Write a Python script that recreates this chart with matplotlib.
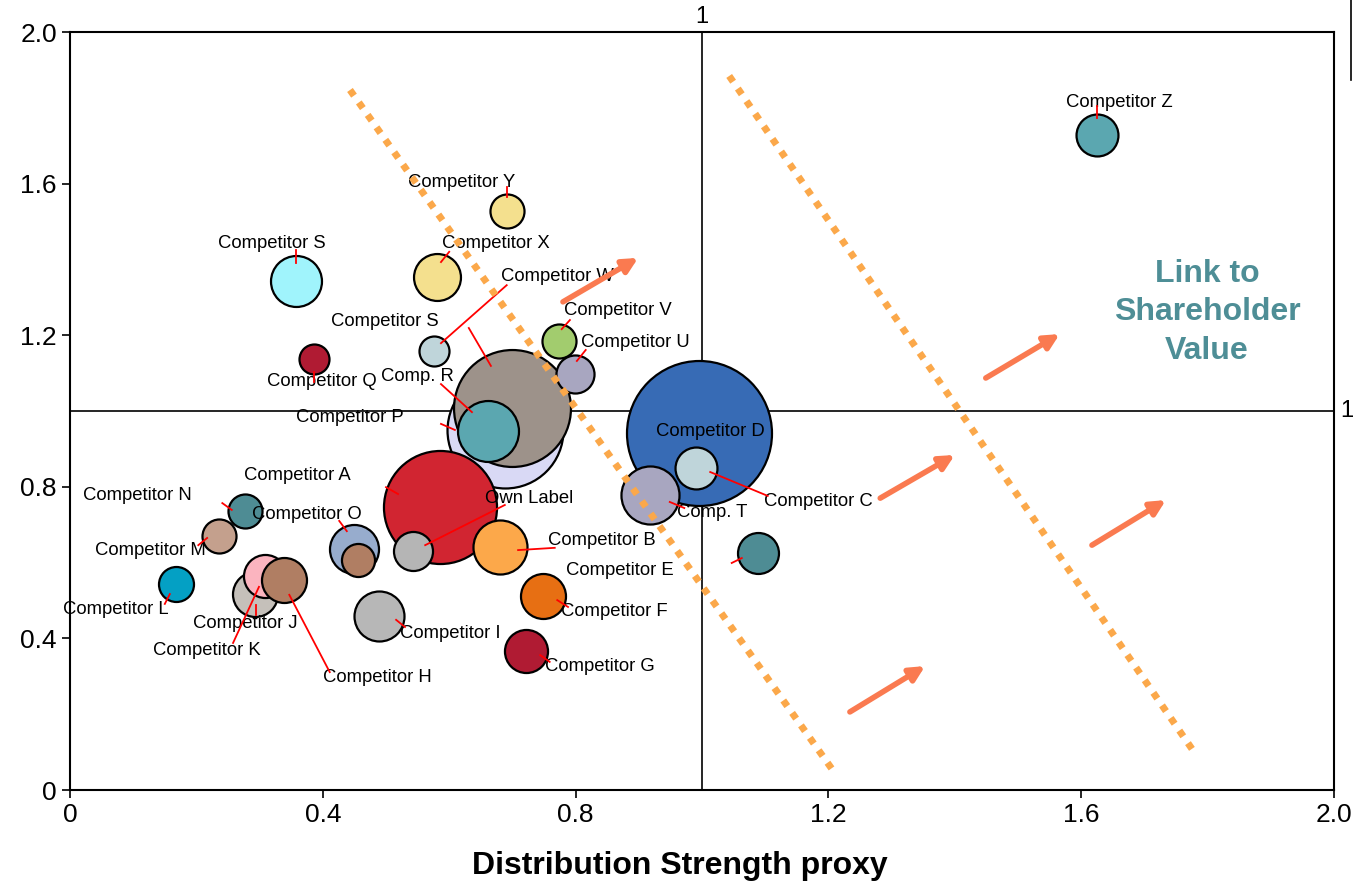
import matplotlib
matplotlib.use("Agg")
import matplotlib.pyplot as plt
from matplotlib.lines import Line2D

plt.rcParams['font.family'] = ['Liberation Sans', 'DejaVu Sans']

# bubbles, in drawing order (back to front)
bubble_x = [0.688, 0.700, 0.661, 0.996, 0.990, 0.918, 0.586, 0.542, 0.680, 0.749,
            0.721, 1.089, 0.489, 0.449, 0.455, 0.277, 0.236, 0.167, 0.293, 0.309,
            0.339, 0.386, 0.576, 0.358, 0.580, 0.691, 0.774, 0.799, 1.625]
bubble_y = [0.950, 1.009, 0.947, 0.942, 0.850, 0.778, 0.748, 0.631, 0.640, 0.512,
            0.367, 0.625, 0.459, 0.635, 0.608, 0.737, 0.670, 0.544, 0.518, 0.565,
            0.553, 1.137, 1.158, 1.343, 1.354, 1.528, 1.185, 1.098, 1.728]
# bubble diameter in points
bubble_d = [83.5, 84.2, 43.9, 104.4, 30.2, 41.8, 81.4, 28.1, 38.9, 32.4,
            31.0, 29.5, 36.0, 35.3, 23.8, 24.5, 24.5, 25.2, 32.4, 31.0,
            32.4, 21.6, 21.6, 36.7, 33.8, 24.5, 24.5, 27.4, 30.2]
bubble_color = ['#D9D9F5', '#9D928A', '#5BA7B0', '#376BB5', '#BFD5DA', '#A8A6C0',
                '#D12531', '#B5B5B5', '#FCA84A', '#E76F13', '#B01B33', '#4E8C94',
                '#B7B7B7', '#97ACCD', '#B07E63', '#4E8C94', '#C4A08D', '#04A0C4',
                '#C5C0BA', '#FBB4BF', '#B07E63', '#B01B33', '#BFD5DA', '#A0F4FC',
                '#F4E08E', '#F4E08E', '#A2CC6E', '#A8A6C0', '#5BA7B0']

# labels and their leader lines
label_text = ['Competitor Z', 'Competitor Y', 'Competitor S', 'Competitor X', 'Competitor W',
              'Competitor S', 'Competitor V', 'Competitor U', 'Comp. R', 'Competitor P',
              'Competitor D', 'Competitor C', 'Comp. T', 'Competitor A', 'Own Label',
              'Competitor N', 'Competitor O', 'Competitor B', 'Competitor M', 'Competitor E',
              'Competitor L', 'Competitor F', 'Competitor J', 'Competitor I', 'Competitor K',
              'Competitor G', 'Competitor H', 'Competitor Q']
label_x = [1.660, 0.620, 0.320, 0.674, 0.771, 0.498, 0.867, 0.894, 0.549, 0.443,
           1.013, 1.184, 1.016, 0.359, 0.726, 0.106, 0.375, 0.842, 0.127, 0.870,
           0.073, 0.862, 0.277, 0.601, 0.217, 0.839, 0.487, 0.399]
label_y = [1.815, 1.604, 1.443, 1.443, 1.354, 1.235, 1.264, 1.182, 1.092, 0.984,
           0.945, 0.760, 0.731, 0.831, 0.770, 0.776, 0.728, 0.657, 0.631, 0.580,
           0.475, 0.470, 0.438, 0.412, 0.367, 0.325, 0.296, 1.077]
leader_x0 = [1.625, 0.691, 0.358, 0.600, 0.691, 0.631, 0.791, 0.816, 0.587, 0.587,
             None, 1.013, 0.949, 0.500, 0.688, 0.241, 0.426, 0.709, 0.203, 1.047,
             0.150, 0.771, 0.294, 0.516, 0.299, 0.744, 0.347, 0.386]
leader_y0 = [1.805, 1.591, 1.425, 1.420, 1.332, 1.219, 1.240, 1.161, 1.071, 0.966,
             None, 0.839, 0.760, 0.799, 0.752, 0.757, 0.710, 0.633, 0.646, 0.599,
             0.491, 0.501, 0.488, 0.449, 0.536, 0.356, 0.515, 1.103]
leader_x1 = [1.625, 0.691, 0.358, 0.587, 0.587, 0.666, 0.778, 0.802, 0.636, 0.609,
             None, 1.104, 0.972, 0.519, 0.562, 0.256, 0.438, 0.767, 0.217, 1.063,
             0.158, 0.788, 0.294, 0.530, 0.258, 0.759, 0.411, 0.386]
leader_y1 = [1.773, 1.565, 1.391, 1.393, 1.179, 1.119, 1.216, 1.132, 0.997, 0.950,
             None, 0.776, 0.744, 0.781, 0.646, 0.739, 0.683, 0.639, 0.665, 0.612,
             0.517, 0.483, 0.462, 0.430, 0.388, 0.338, 0.311, 1.077]

# dotted frontier lines
frontier_x = [[0.443, 1.210], [1.043, 1.782]]
frontier_y = [[1.847, 0.045], [1.884, 0.092]]

# direction arrows (start -> end)
arrow_x0 = [0.780, 1.449, 1.282, 1.617, 1.234]
arrow_y0 = [1.288, 1.087, 0.770, 0.646, 0.206]
arrow_x1 = [0.899, 1.566, 1.400, 1.734, 1.353]
arrow_y1 = [1.404, 1.203, 0.884, 0.765, 0.327]

ticks = [0, 0.4, 0.8, 1.2, 1.6, 2.0]
tick_labels = ['0', '0.4', '0.8', '1.2', '1.6', '2.0']

fig = plt.figure(figsize=(13.54, 8.83), dpi=100)
ax = fig.add_axes([70 / 1354, 93 / 883, 1264 / 1354, 758 / 883])

# quadrant lines
ax.axvline(1.0, color='black', lw=1.2, zorder=1)
ax.axhline(1.0, color='black', lw=1.2, zorder=1)
ax.text(1.0, 2.01, '1', ha='center', va='bottom', fontsize=17)
ax.text(2.01, 1.0, '1', ha='left', va='center', fontsize=17)

for i in range(len(bubble_x)):
    ax.scatter(bubble_x[i], bubble_y[i], s=bubble_d[i] ** 2, c=bubble_color[i],
               edgecolors='black', linewidths=1.6, zorder=2 + i * 0.01)

for i, t in enumerate(label_text):
    ax.text(label_x[i], label_y[i], t, ha='center', va='center', fontsize=13.3, zorder=4)
    if leader_x0[i] is not None:
        ax.plot([leader_x0[i], leader_x1[i]], [leader_y0[i], leader_y1[i]],
                color='red', lw=1.3, zorder=4)

for fx, fy in zip(frontier_x, frontier_y):
    ax.plot(fx, fy, color='#FBA84A', lw=5, linestyle=(0, (1, 1.2)),
            dash_capstyle='butt', zorder=5)

for i in range(len(arrow_x0)):
    ax.annotate('', xy=(arrow_x1[i], arrow_y1[i]), xytext=(arrow_x0[i], arrow_y0[i]),
                arrowprops=dict(arrowstyle='-|>', color='#FA7A50', lw=4,
                                mutation_scale=22, shrinkA=0, shrinkB=0), zorder=6)

ax.text(1.799, 1.26, 'Link to\nShareholder\nValue', ha='center', va='center',
        fontsize=23, fontweight='bold', color='#4E8E96', linespacing=1.35)

ax.set_xlim(0, 2.0)
ax.set_ylim(0, 2.0)
ax.set_xticks(ticks)
ax.set_xticklabels(tick_labels)
ax.set_yticks(ticks)
ax.set_yticklabels(tick_labels)
ax.tick_params(labelsize=19, length=6, width=1.2, direction='out')
for s in ax.spines.values():
    s.set_linewidth(1.5)
ax.set_xlabel('Distribution Strength proxy', fontsize=23, fontweight='bold')
ax.xaxis.set_label_coords((680 - 70) / 1264, -0.081)

# stray frame edge at the top right corner
fig.add_artist(Line2D([1351 / 1354, 1351 / 1354], [1.0, 803 / 883], color='black', lw=1.2))

fig.savefig('out.png', dpi=100)
